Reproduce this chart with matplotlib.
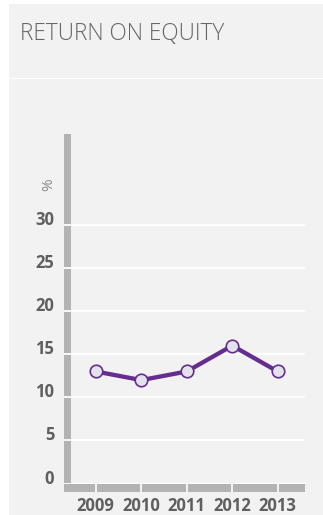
import matplotlib.pyplot as plt
from matplotlib.patches import Rectangle
import numpy as np

# data
years = [2009, 2010, 2011, 2012, 2013]
roe = [13, 12, 13, 16, 13]
yticks = [0, 5, 10, 15, 20, 25, 30]

W, H = 323, 515
fig = plt.figure(figsize=(W / 100, H / 100), dpi=100)
fig.patch.set_facecolor('white')

# grey panel + white divider under the title
fig.add_artist(Rectangle((9 / W, 0), 1, 1 - 4 / H, transform=fig.transFigure,
                         facecolor='#f2f2f2', edgecolor='none', zorder=-5))
fig.add_artist(plt.Line2D([9 / W, 1], [1 - 78 / H, 1 - 78 / H], transform=fig.transFigure,
                          color='white', lw=1.0, zorder=-4))
fig.text(20 / W, 1 - 22 / H, 'RETURN ON EQUITY', family='Open Sans', weight='light',
         fontsize=16.3, color='#666666', va='top', ha='left')

# axes box in pixels
left, right, top, bottom = 64, 305, 134, 483.5
ax = fig.add_axes([left / W, 1 - bottom / H, (right - left) / W, (bottom - top) / H])
ax.set_facecolor('none')
for s in ax.spines.values():
    s.set_visible(False)

ax.set_xlim(2008.30, 2013.60)
ax.set_ylim(0, 40.56)

axw, axh = right - left, bottom - top
bar_col = '#b3b3b3'
# vertical axis bar
ax.add_patch(Rectangle((0, -8.2 / axh), 7 / axw, 1 + 8.2 / axh, transform=ax.transAxes,
                       facecolor=bar_col, edgecolor='none', clip_on=False, zorder=0.2))
# horizontal axis bar
ax.add_patch(Rectangle((0, -8.2 / axh), 1, 8.2 / axh, transform=ax.transAxes,
                       facecolor=bar_col, edgecolor='none', clip_on=False, zorder=0.2))

ax.set_yticks(yticks)
ax.yaxis.grid(True, color='white', lw=1.3)
ax.set_axisbelow(True)
ax.tick_params(axis='y', length=0, pad=7, labelsize=12, labelcolor='#5f5f5f')
for lab in ax.get_yticklabels():
    lab.set_fontfamily('Open Sans')
    lab.set_fontweight('bold')
    lab.set_va('baseline')

ax.set_xticks(years)
ax.tick_params(axis='x', direction='out', length=6, width=1.2, color='white',
               pad=4, labelsize=12, labelcolor='#5f5f5f')
for lab in ax.get_xticklabels():
    lab.set_fontfamily('Open Sans')
    lab.set_fontweight('bold')

ax.text((49 - left) / axw, (bottom - 185) / axh, '%', transform=ax.transAxes,
        rotation=90, ha='center', va='center', fontsize=11, color='#8a8a8a',
        family='Open Sans')

ax.plot(years, roe, color='#662d91', lw=3.1, marker='o', markersize=9,
        markerfacecolor='#e2e2ea', markeredgecolor='#662d91', markeredgewidth=1.2,
        zorder=3, clip_on=False)

fig.savefig('out.png', dpi=100, facecolor=fig.get_facecolor())
